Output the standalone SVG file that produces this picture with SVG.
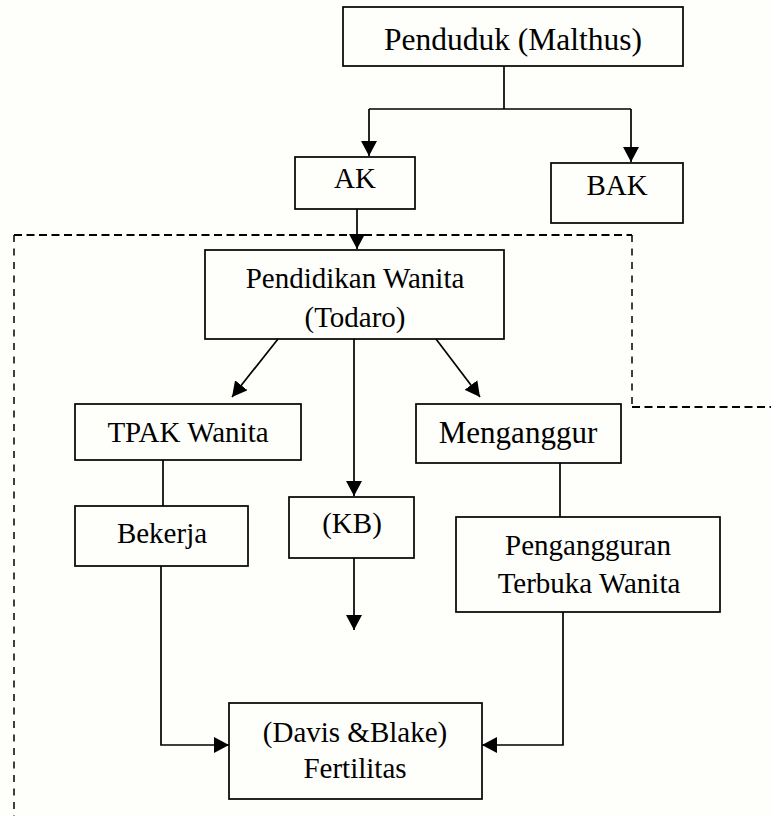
<svg xmlns="http://www.w3.org/2000/svg" width="771" height="816" viewBox="0 0 771 816">
<style>
.box{fill:none;stroke:#000;stroke-width:1.7}
.ln{fill:none;stroke:#000;stroke-width:1.7}
.dh{fill:none;stroke:#000;stroke-width:2;stroke-dasharray:8 4.5}
.dv{fill:none;stroke:#000;stroke-width:1.5;stroke-dasharray:7 6.5}
text{font-family:"Liberation Serif","Times New Roman",serif;font-size:29px;fill:#000;text-anchor:middle}
</style>
<defs>
<marker id="arr" markerUnits="userSpaceOnUse" markerWidth="16" markerHeight="16" refX="15" refY="8" orient="auto">
<path d="M0,0 L15,8 L0,16 z" fill="#000"/>
</marker>
</defs>
<rect width="771" height="816" fill="#fefefb"/>
<g id="boundary">
<path class="dh" d="M14,235 H632"/>
<path class="dh" d="M632,407 H771"/>
<path class="dv" d="M14,235 V816"/>
<path class="dv" d="M632,235 V407"/>
</g>
<g id="connectors">
<path class="ln" d="M504,66 V109"/>
<path class="ln" d="M369,109 H631"/>
<path class="ln" d="M369,109 V156" marker-end="url(#arr)"/>
<path class="ln" d="M631,109 V162" marker-end="url(#arr)"/>
<path class="ln" d="M357,209 V249" marker-end="url(#arr)"/>
<path class="ln" d="M278,339 L232,397" marker-end="url(#arr)"/>
<path class="ln" d="M436,339 L480,397" marker-end="url(#arr)"/>
<path class="ln" d="M354,339 V496" marker-end="url(#arr)"/>
<path class="ln" d="M354,558 V630" marker-end="url(#arr)"/>
<path class="ln" d="M163,460 V506"/>
<path class="ln" d="M560,463 V517"/>
<path class="ln" d="M161,566 V745 H229" marker-end="url(#arr)"/>
<path class="ln" d="M563,612 V745 H482" marker-end="url(#arr)"/>
</g>
<g id="penduduk">
<rect class="box" x="343" y="7" width="340" height="59"/>
<text x="513" y="50" style="font-size:31.5px">Penduduk (Malthus)</text>
</g>
<g id="ak">
<rect class="box" x="295" y="157" width="120" height="52"/>
<text x="355" y="188">AK</text>
</g>
<g id="bak">
<rect class="box" x="551" y="163" width="132" height="60"/>
<text x="617" y="195">BAK</text>
</g>
<g id="pendidikan">
<rect class="box" x="205" y="250" width="299" height="89"/>
<text x="355" y="288">Pendidikan Wanita</text>
<text x="355" y="327">(Todaro)</text>
</g>
<g id="tpak">
<rect class="box" x="75" y="404" width="226" height="56"/>
<text x="188" y="442">TPAK Wanita</text>
</g>
<g id="menganggur">
<rect class="box" x="416" y="404" width="205" height="59"/>
<text x="518" y="443" style="font-size:31px">Menganggur</text>
</g>
<g id="bekerja">
<rect class="box" x="75" y="506" width="173" height="60"/>
<text x="162" y="543">Bekerja</text>
</g>
<g id="kb">
<rect class="box" x="289" y="497" width="125" height="61"/>
<text x="352" y="533">(KB)</text>
</g>
<g id="pengangguran">
<rect class="box" x="456" y="517" width="264" height="95"/>
<text x="588" y="555">Pengangguran</text>
<text x="589" y="593">Terbuka Wanita</text>
</g>
<g id="fertilitas">
<rect class="box" x="229" y="703" width="253" height="96"/>
<text x="355" y="742">(Davis &amp;Blake)</text>
<text x="355" y="778">Fertilitas</text>
</g>
</svg>
